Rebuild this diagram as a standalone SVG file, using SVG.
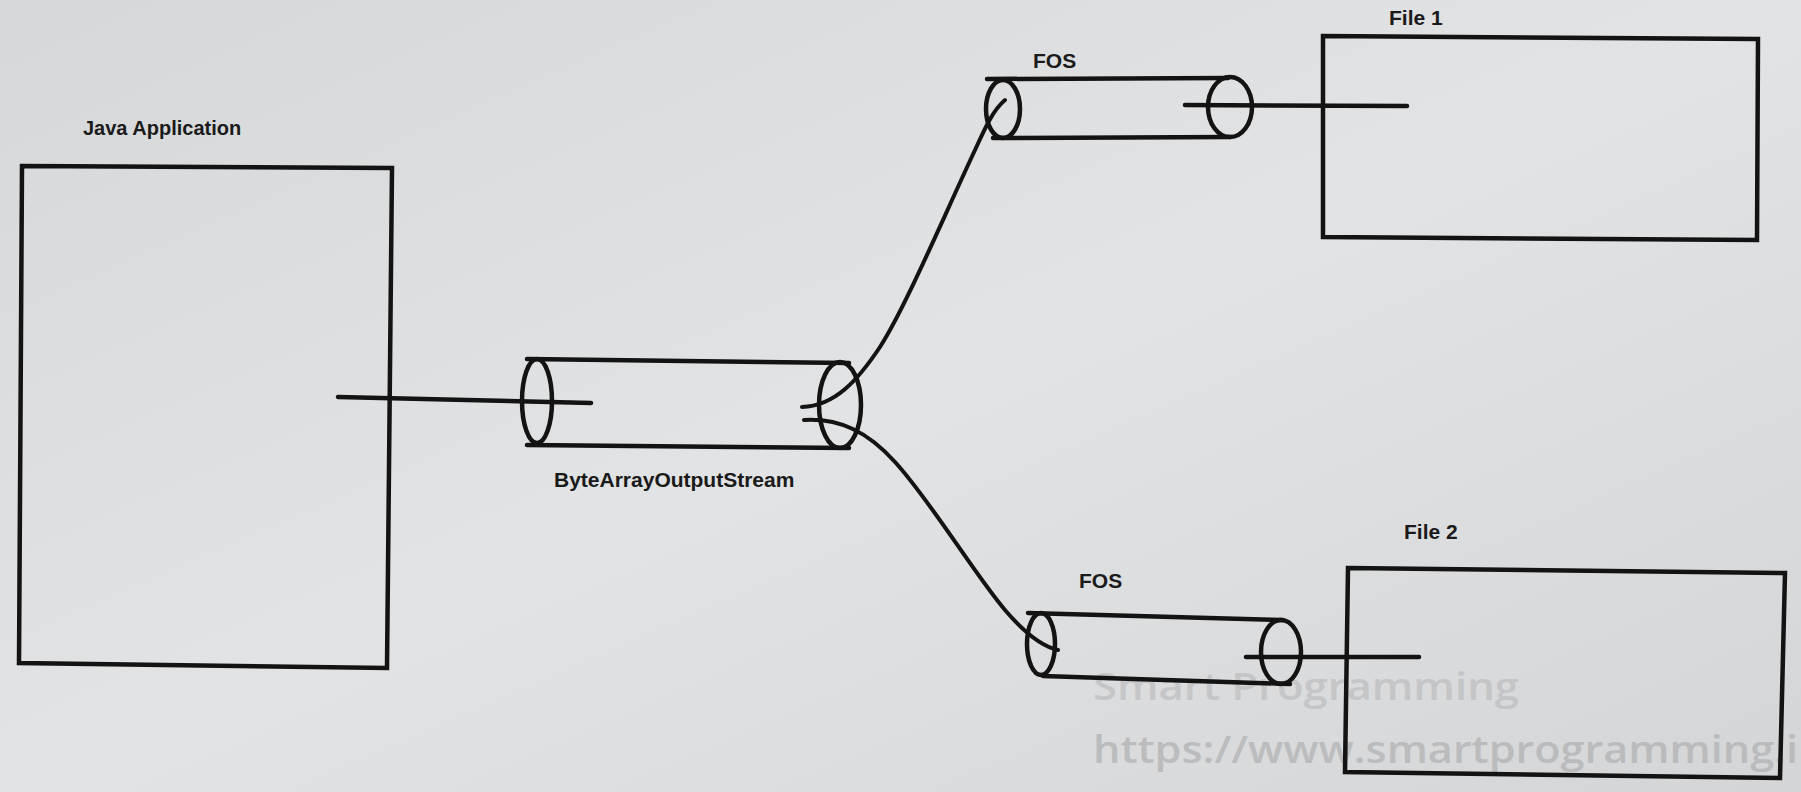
<svg xmlns="http://www.w3.org/2000/svg" width="1801" height="792" viewBox="0 0 1801 792">
  <defs>
    <linearGradient id="bg" x1="0" y1="0" x2="1" y2="1">
      <stop offset="0" stop-color="#d6d7d9"/>
      <stop offset="0.5" stop-color="#e2e3e4"/>
      <stop offset="1" stop-color="#d4d5d7"/>
    </linearGradient>
  </defs>
  <style>
    .box { fill: none; stroke: #131313; stroke-width: 4.5; stroke-linejoin: miter; }
    .ln { fill: none; stroke: #131313; stroke-width: 4.5; stroke-linecap: round; }
    .cyl { fill: none; stroke: #131313; stroke-width: 4.5; }
    .wire { fill: none; stroke: #131313; stroke-width: 4; stroke-linecap: round; }
    .lbl { font-family: "Liberation Sans", Arial, sans-serif; font-weight: bold; font-size: 21px; fill: #1a1a1a; }
    .wm { font-family: "Open Sans", "Noto Sans", sans-serif; font-weight: 600; fill: #b4b5b7; }
  </style>
  <rect x="0" y="0" width="1801" height="792" fill="url(#bg)"/>

  <g id="watermark">
    <text class="wm" x="1093" y="700" font-size="38" opacity="0.55" textLength="426" lengthAdjust="spacingAndGlyphs">Smart Programming</text>
    <text class="wm" x="1093" y="763" font-size="38" opacity="0.8" textLength="705" lengthAdjust="spacingAndGlyphs">https://www.smartprogramming.i</text>
  </g>

  <g id="java-application">
    <polygon class="box" points="22,166 392,168 387,668 19,663"/>
    <text class="lbl" x="83" y="135" style="font-size:20px">Java Application</text>
  </g>

  <g id="baos">
    <line class="ln" x1="527" y1="359" x2="849" y2="363"/>
    <line class="ln" x1="527" y1="445" x2="849" y2="448"/>
    <ellipse class="cyl" cx="537" cy="401" rx="15" ry="42"/>
    <ellipse class="cyl" cx="840" cy="405" rx="21" ry="43"/>
    <text class="lbl" x="554" y="487">ByteArrayOutputStream</text>
  </g>

  <g id="fos1">
    <line class="ln" x1="987" y1="79" x2="1228" y2="78"/>
    <line class="ln" x1="993" y1="138" x2="1230" y2="137"/>
    <ellipse class="cyl" cx="1003" cy="109" rx="17" ry="29"/>
    <ellipse class="cyl" cx="1230" cy="107" rx="22" ry="30"/>
    <text class="lbl" x="1033" y="68">FOS</text>
  </g>

  <g id="fos2">
    <line class="ln" x1="1028" y1="613" x2="1283" y2="620"/>
    <line class="ln" x1="1043" y1="676" x2="1290" y2="684"/>
    <ellipse class="cyl" cx="1041" cy="644" rx="14" ry="31"/>
    <ellipse class="cyl" cx="1281" cy="652" rx="20" ry="32"/>
    <text class="lbl" x="1079" y="588">FOS</text>
  </g>

  <g id="file1">
    <polygon class="box" points="1323,36 1758,39 1757,240 1323,237"/>
    <text class="lbl" x="1389" y="25">File 1</text>
  </g>

  <g id="file2">
    <polygon class="box" points="1348,568 1785,573 1780,778 1345,772"/>
    <text class="lbl" x="1404" y="539">File 2</text>
  </g>

  <g id="connectors">
    <line class="ln" x1="338" y1="397" x2="591" y2="403"/>
    <path class="wire" d="M802,407 C835,406 858,380 880,347 C905,308 940,225 975,150 C985,128 993,110 1005,100"/>
    <path class="wire" d="M804,420 C840,418 868,432 895,462 C930,500 975,575 1005,610 C1022,630 1040,646 1058,650"/>
    <line class="ln" x1="1185" y1="105" x2="1407" y2="106"/>
    <line class="ln" x1="1246" y1="657" x2="1419" y2="657"/>
  </g>
</svg>
